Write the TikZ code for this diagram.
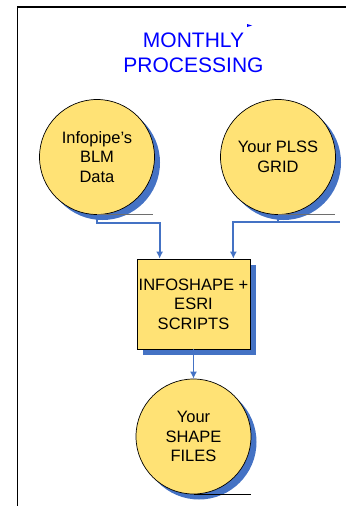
\documentclass[tikz,border=0pt]{standalone}
\usepackage{fontspec}
\setmainfont{Liberation Sans}
\usetikzlibrary{arrows.meta,shadows}
\definecolor{procyellow}{RGB}{255,226,117}
\definecolor{shadowblue}{RGB}{68,114,196}
\definecolor{titleblue}{RGB}{0,0,255}
\definecolor{rulegray}{RGB}{110,110,110}
\tikzset{
  procnode/.style={draw=black, line width=0.7pt, fill=procyellow, inner sep=0pt, align=center,
    font=\fontsize{16.5}{19.5}\selectfont,
    drop shadow={shadow xshift=5.5pt, shadow yshift=-5.5pt, fill=shadowblue, opacity=1}},
  datacircle/.style={procnode, circle, minimum size=115pt},
  procbox/.style={procnode, rectangle, minimum width=113pt, minimum height=90pt},
  conn/.style={draw=shadowblue, line width=1.8pt, -{Latex[length=7pt,width=7pt]}},
  blueline/.style={draw=shadowblue, line width=1.8pt},
  grayline/.style={draw=rulegray, line width=1.2pt},
  frameline/.style={draw=black, line width=1.6pt}
}
\begin{document}
\begin{tikzpicture}[x=1pt,y=-1pt]
\useasboundingbox (0,0) rectangle (346,506);
% frame
\draw[frameline] (17.5,506) -- (17.5,7) -- (346,7);
% title
\node[font=\fontsize{21}{25}\selectfont, text=titleblue, align=center] (title) at (193.5,53) {MONTHLY\\PROCESSING};
\fill[titleblue] (247,24) -- (252,25.5) -- (247,27) -- cycle;
% nodes
\node[datacircle] (c1) at (97,157) {Infopipe’s\\BLM\\Data};
\node[datacircle] (c2) at (278,157) {Your PLSS\\GRID};
\node[procbox] (box) at (193.5,304) {INFOSHAPE +\\ESRI\\SCRIPTS};
\node[datacircle] (c3) at (193.5,436.5) {Your\\SHAPE\\FILES};
% underlines
\draw[grayline] (c1.south) -- ++(56,0);
\draw[grayline] (c2.south) -- ++(57,0);
\draw[draw=black, line width=0.9pt] (c3.south) -- ++(57,0);
% connectors
\draw[conn] (c1.south) -- ++(0,8) -| ([xshift=23pt]box.north west);
\draw[conn] (c2.south) -- ++(0,7) -| ([xshift=-17pt]box.north east);
\draw[blueline] ([yshift=-7pt]c2.south) -- ++(62,0);
\draw[conn] (box.south) -- (c3.north);
\end{tikzpicture}
\end{document}
